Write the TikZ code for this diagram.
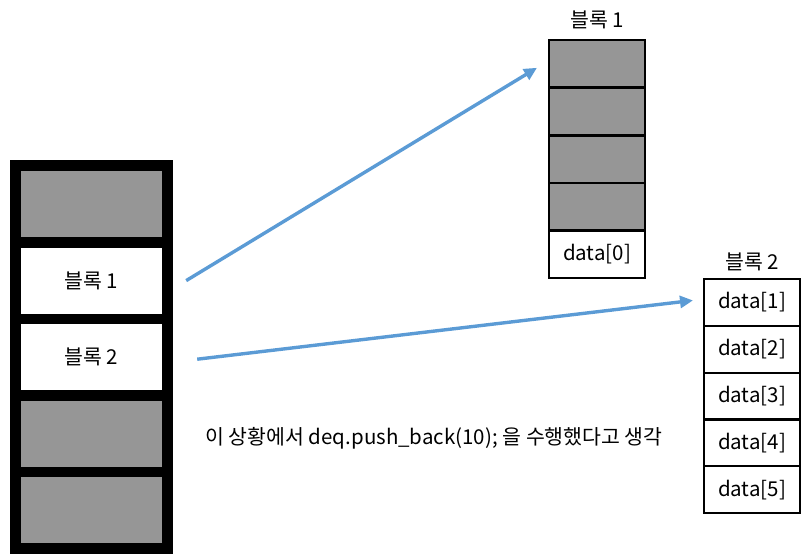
\documentclass[tikz,border=0pt]{standalone}
\usepackage{fontspec}
\setmainfont{Noto Sans CJK KR}
\usetikzlibrary{arrows.meta}
\definecolor{arrowblue}{HTML}{5B9BD5}
\definecolor{cellgray}{HTML}{969696}
\begin{document}
\begin{tikzpicture}[x=1pt,y=-1pt, every node/.style={font=\fontsize{20.5}{23}\selectfont,inner sep=0pt},
  slot/.style={minimum width=141pt,minimum height=66pt},
  cell/.style={draw,line width=2pt,minimum width=96pt,minimum height=47pt,align=center},
  link/.style={line width=3.4pt,arrowblue,-{Triangle[length=13pt,width=12pt]}}]
\useasboundingbox (0,0) rectangle (803,557);
% deque map
\node[fill=black,minimum width=163pt,minimum height=394pt] (map) at (91.5,357) {};
\node[slot,fill=cellgray] (m0) at (91.5,204) {};
\node[slot,fill=white] (m1) at (91.5,280.6) {블록 1};
\node[slot,fill=white] (m2) at (91.5,357.2) {블록 2};
\node[slot,fill=cellgray] (m3) at (91.5,433.8) {};
\node[slot,fill=cellgray] (m4) at (91.5,510.4) {};
% block 1
\node (t1) at (597,20) {블록 1};
\node[cell,fill=cellgray] (a0) at (597,63.8) {};
\node[cell,fill=cellgray] (a1) at (597,111.4) {};
\node[cell,fill=cellgray] (a2) at (597,159) {};
\node[cell,fill=cellgray] (a3) at (597,206.6) {};
\node[cell] (a4) at (597,254.2) {data[0]};
% block 2
\node (t2) at (752,262) {블록 2};
\foreach \i in {1,...,5}
  \node[cell] (b\i) at (752,{302.4+46.8*(\i-1)}) {data[\i]};
\draw[link] ([xshift=13pt]map.east |- m1) -- ([xshift=-11pt,yshift=-4pt]a0.west);
\draw[link] ([xshift=24pt,yshift=-2pt]map.east |- m2) -- ([xshift=-10pt,yshift=2pt]b1.west);
\node (note) at (434,438) {이 상황에서 deq.push\_back(10); 을 수행했다고 생각};
\end{tikzpicture}
\end{document}
